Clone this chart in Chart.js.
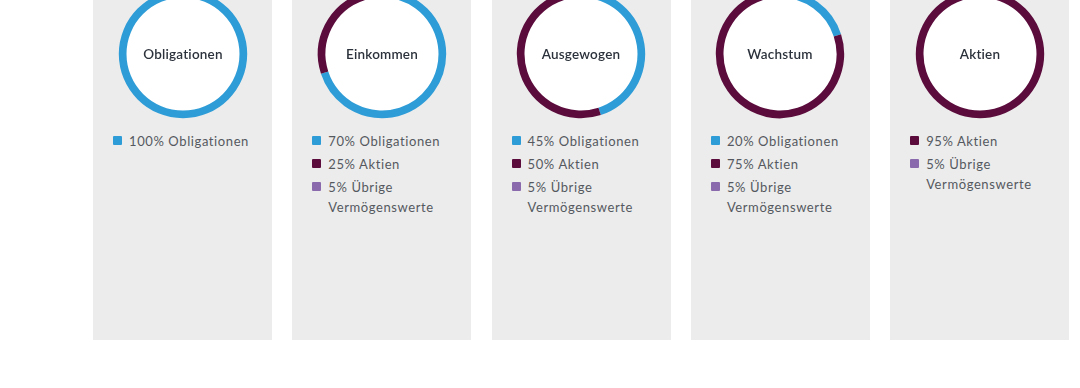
<!DOCTYPE html>
<html>
<head>
<meta charset="utf-8">
<script src="https://cdn.jsdelivr.net/npm/chart.js@4/dist/chart.umd.min.js"></script>
<style>
  html, body { margin: 0; padding: 0; background: #fff; }
  body { width: 1080px; height: 388px; position: relative; overflow: hidden; font-family: Lato, "Open Sans", sans-serif; }
  .panel { position: absolute; top: 0; width: 179px; height: 340px; background: #ececec; overflow: hidden; }
  .panel canvas { position: absolute; left: 19.5px; top: -16px; }
  .legend { position: absolute; left: 20px; top: 131px; margin: 0; padding: 0; list-style: none; }
  .legend li { position: relative; padding-left: 16px; margin-bottom: 3px; width: 130px;
    font-size: 13px; line-height: 20px; color: #55595f; letter-spacing: 0.6px; }
  .legend li span { position: absolute; left: 0; top: 5px; width: 9px; height: 9px; border-radius: 1px; }
</style>
</head>
<body>
<div id="wrap"></div>
<script>
// Portfolios and their asset mix in percent
const portfolios = ['Obligationen', 'Einkommen', 'Ausgewogen', 'Wachstum', 'Aktien'];
const assetClasses = ['Obligationen', 'Aktien', 'Übrige Vermögenswerte'];
const bonds = [100, 70, 45, 20, 0];
const stocks = [0, 25, 50, 75, 95];
const others = [0, 5, 5, 5, 5];
const colors = ['#2e9cd7', '#5b0c3c', '#8a69ad'];

// White disc inside the ring plus the portfolio name
const centerPlugin = {
  id: 'center',
  beforeDatasetsDraw(chart) {
    const arc = chart.getDatasetMeta(0).data[0];
    if (!arc) return;
    const ctx = chart.ctx;
    ctx.save();
    ctx.fillStyle = '#ffffff';
    ctx.beginPath();
    ctx.arc(arc.x, arc.y, arc.innerRadius + 0.5, 0, Math.PI * 2);
    ctx.fill();
    ctx.restore();
  },
  afterDraw(chart) {
    const arc = chart.getDatasetMeta(0).data[0];
    if (!arc) return;
    const ctx = chart.ctx;
    ctx.save();
    ctx.font = '600 13.5px Lato, "Open Sans", sans-serif';
    ctx.letterSpacing = '0.2px';
    ctx.fillStyle = '#2c323b';
    ctx.textAlign = 'center';
    ctx.textBaseline = 'middle';
    ctx.fillText(chart.options.plugins.center.text, arc.x, arc.y + 1);
    ctx.restore();
  }
};

const wrap = document.getElementById('wrap');

portfolios.forEach((name, i) => {
  const panel = document.createElement('div');
  panel.className = 'panel';
  panel.style.left = (93 + i * 199.3) + 'px';
  const canvas = document.createElement('canvas');
  canvas.width = 140;
  canvas.height = 140;
  canvas.style.width = '140px';
  canvas.style.height = '140px';
  panel.appendChild(canvas);

  const values = [bonds[i], stocks[i], others[i]];

  // legend built from the same values
  const ul = document.createElement('ul');
  ul.className = 'legend';
  values.forEach((v, j) => {
    if (!v) return;
    const li = document.createElement('li');
    const sw = document.createElement('span');
    sw.style.background = colors[j];
    li.appendChild(sw);
    li.appendChild(document.createTextNode(v + '% ' + assetClasses[j]));
    ul.appendChild(li);
  });
  panel.appendChild(ul);
  wrap.appendChild(panel);

  new Chart(canvas.getContext('2d'), {
    type: 'doughnut',
    data: {
      labels: assetClasses,
      datasets: [{
        data: values,
        backgroundColor: colors,
        borderWidth: 0
      }]
    },
    options: {
      responsive: false,
      animation: false,
      radius: 64.2,
      cutout: '88%',
      layout: { padding: 0 },
      plugins: {
        legend: { display: false },
        tooltip: { enabled: false },
        center: { text: name }
      }
    },
    plugins: [centerPlugin]
  });
});
</script>
</body>
</html>
